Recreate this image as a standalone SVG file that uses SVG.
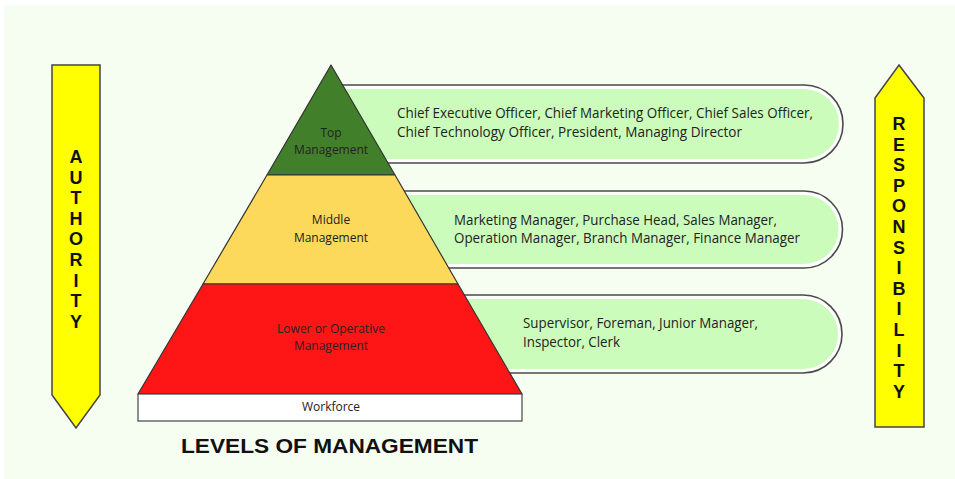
<svg xmlns="http://www.w3.org/2000/svg" width="955" height="479" viewBox="0 0 955 479">
<style>
.arrow{fill:#ffff00;stroke:#444;stroke-width:1.5}
.vl{font-family:"Liberation Sans",Arial,sans-serif;font-weight:bold;font-size:18px;fill:#111;text-anchor:middle}
.pill-o{fill:#ffffff;stroke:#4a4a4a;stroke-width:1.6}
.pill-i{fill:#ccfcbc}
.pt{font-family:"Open Sans","Liberation Sans",sans-serif;font-size:14px;fill:#222}
.lvl{stroke:#333;stroke-width:1.2;stroke-linejoin:round}
.lt{font-family:"Open Sans","Liberation Sans",sans-serif;font-size:12px;fill:#222;text-anchor:middle}
</style>
<rect x="0" y="0" width="955" height="479" fill="#ffffff"/>
<rect x="4" y="5" width="951" height="474" fill="#f6fdf1"/>

<g id="authority">
<path class="arrow" d="M52 65 H100 V395 L76 428 L52 395 Z"/>
<text class="vl" x="76" y="163">A</text>
<text class="vl" x="76" y="183.6">U</text>
<text class="vl" x="76" y="204.2">T</text>
<text class="vl" x="76" y="224.8">H</text>
<text class="vl" x="76" y="245.4">O</text>
<text class="vl" x="76" y="266">R</text>
<text class="vl" x="76" y="286.6">I</text>
<text class="vl" x="76" y="307.2">T</text>
<text class="vl" x="76" y="327.8">Y</text>
</g>

<g id="responsibility">
<path class="arrow" d="M899 65 L924 98 V427 H875 V98 Z"/>
<text class="vl" x="899" y="130">R</text>
<text class="vl" x="899" y="150.6">E</text>
<text class="vl" x="899" y="171.2">S</text>
<text class="vl" x="899" y="191.8">P</text>
<text class="vl" x="899" y="212.4">O</text>
<text class="vl" x="899" y="233">N</text>
<text class="vl" x="899" y="253.6">S</text>
<text class="vl" x="899" y="274.2">I</text>
<text class="vl" x="899" y="294.8">B</text>
<text class="vl" x="899" y="315.4">I</text>
<text class="vl" x="899" y="336">L</text>
<text class="vl" x="899" y="356.6">I</text>
<text class="vl" x="899" y="377.2">T</text>
<text class="vl" x="899" y="397.8">Y</text>
</g>

<g id="pill-top">
<path class="pill-o" d="M335 85 H804 A39 39 0 0 1 804 163 H335 Z"/>
<path class="pill-i" d="M335 89 H804 A35 35 0 0 1 804 159 H335 Z"/>
<text class="pt" x="397" y="118" textLength="416" lengthAdjust="spacingAndGlyphs">Chief Executive Officer, Chief Marketing Officer, Chief Sales Officer,</text>
<text class="pt" x="397" y="137" textLength="345" lengthAdjust="spacingAndGlyphs">Chief Technology Officer, President, Managing Director</text>
</g>

<g id="pill-middle">
<path class="pill-o" d="M385 191 H804 A38.5 38.5 0 0 1 804 268 H385 Z"/>
<path class="pill-i" d="M385 195 H804 A34.5 34.5 0 0 1 804 264 H385 Z"/>
<text class="pt" x="454" y="225" textLength="323" lengthAdjust="spacingAndGlyphs">Marketing Manager, Purchase Head, Sales Manager,</text>
<text class="pt" x="454" y="243" textLength="346" lengthAdjust="spacingAndGlyphs">Operation Manager, Branch Manager, Finance Manager</text>
</g>

<g id="pill-lower">
<path class="pill-o" d="M445 295 H803 A39 39 0 0 1 803 373 H445 Z"/>
<path class="pill-i" d="M445 299 H803 A35 35 0 0 1 803 369 H445 Z"/>
<text class="pt" x="523" y="328" textLength="235" lengthAdjust="spacingAndGlyphs">Supervisor, Foreman, Junior Manager,</text>
<text class="pt" x="523" y="347" textLength="97" lengthAdjust="spacingAndGlyphs">Inspector, Clerk</text>
</g>

<g id="level-top">
<polygon class="lvl" fill="#427f2b" points="331,65 395,175 267,175"/>
<text class="lt" x="331" y="137">Top</text>
<text class="lt" x="331" y="154">Management</text>
</g>

<g id="level-middle">
<polygon class="lvl" fill="#fdd95b" points="267,175 395,175 458,284 203,284"/>
<text class="lt" x="331" y="224">Middle</text>
<text class="lt" x="331" y="242">Management</text>
</g>

<g id="level-lower">
<polygon class="lvl" fill="#fe1616" points="203,284 458,284 522,394 138,394"/>
<text class="lt" x="331" y="333">Lower or Operative</text>
<text class="lt" x="331" y="350">Management</text>
</g>

<g id="workforce">
<rect x="138" y="394" width="384" height="27" fill="#ffffff" stroke="#444" stroke-width="1.2"/>
<text class="lt" x="331" y="411">Workforce</text>
</g>

<g id="connectors"></g>

<text x="181" y="453" font-family="Liberation Sans,Arial,sans-serif" font-weight="bold" font-size="21" fill="#111" textLength="297" lengthAdjust="spacingAndGlyphs">LEVELS OF MANAGEMENT</text>
</svg>
